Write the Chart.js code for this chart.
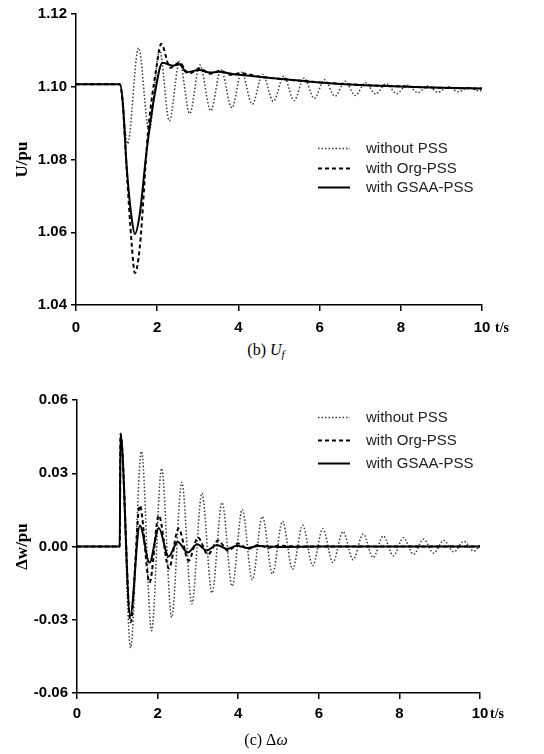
<!DOCTYPE html>
<html><head><meta charset="utf-8">
<script src="https://cdn.jsdelivr.net/npm/chart.js@4.4.1/dist/chart.umd.min.js"></script>
<style>
html,body{margin:0;padding:0;background:#fff;}
body{width:544px;height:754px;position:relative;overflow:hidden;}
canvas{position:absolute;left:0;}
.cap{position:absolute;left:0;width:532px;text-align:center;font-family:'Liberation Serif','Times New Roman',serif;font-size:16px;line-height:18px;color:#000;}
.cap sub{font-size:11px;vertical-align:-3px;line-height:0;}
.leg{position:absolute;left:318px;width:200px;font-family:'Liberation Sans',Arial,sans-serif;font-size:15px;color:#222;}
.row{position:absolute;left:0;white-space:nowrap;height:16px;width:200px;}
.row svg{position:absolute;left:0;top:7px;}
.row span{position:absolute;left:48px;top:-1px;line-height:18px;}
</style></head>
<body>
<canvas id="c1" width="544" height="340" style="top:0px"></canvas>
<canvas id="c2" width="544" height="374" style="top:380px"></canvas>
<div class="cap" style="top:341px">(b) <i>U</i><sub><i>f</i></sub></div>
<div class="cap" style="top:731px">(c) Δ<i>ω</i></div>
<div class="leg" id="leg1" style="top:140px"></div>
<div class="leg" id="leg2" style="top:409px"></div>
<script>
// ---- data ----
const seriesNames = ['without PSS', 'with Org-PSS', 'with GSAA-PSS'];
const xTicks = [0, 2, 4, 6, 8, 10];
const xTickLabels = ['0', '2', '4', '6', '8', '10'];
const ufTicks = [1.04, 1.06, 1.08, 1.10, 1.12];
const ufTickLabels = ['1.04', '1.06', '1.08', '1.10', '1.12'];
const dwTicks = [-0.06, -0.03, 0, 0.03, 0.06];
const dwTickLabels = ['-0.06', '-0.03', '0.00', '0.03', '0.06'];

// (b) Uf
const ufNoneT = [0, 1.08, 1.27, 1.54, 1.80, 2.06, 2.30, 2.55, 2.80, 3.05, 3.32, 3.57, 3.84, 4.08, 4.34, 4.60, 4.86, 5.12, 5.37, 5.62, 5.87, 6.12, 6.38, 6.63, 6.88, 7.13, 7.38, 7.64, 7.90, 8.15, 8.42, 8.66, 8.92, 9.17, 9.42, 9.68, 9.94, 10];
const ufNoneV = [1.1007, 1.1007, 1.0843, 1.1107, 1.0880, 1.1100, 1.0906, 1.1070, 1.0926, 1.1060, 1.0934, 1.1047, 1.0942, 1.1040, 1.0952, 1.1034, 1.0960, 1.1029, 1.0962, 1.1024, 1.0968, 1.1019, 1.0974, 1.1015, 1.0976, 1.1011, 1.0980, 1.1008, 1.0981, 1.1005, 1.0984, 1.1002, 1.0985, 1.1000, 1.0986, 1.0998, 1.0988, 1.0994];
const ufOrgT = [0, 1.08, 1.15, 1.25, 1.37, 1.45, 1.57, 1.77, 1.98, 2.10, 2.32, 2.55, 2.78, 3.05, 3.30, 3.55, 3.80, 4.05, 4.50, 5.00, 6.00, 7.00, 8.00, 9.00, 10];
const ufOrgV = [1.1007, 1.1007, 1.0955, 1.0770, 1.0570, 1.0488, 1.0557, 1.0870, 1.1052, 1.1118, 1.1052, 1.1066, 1.1036, 1.1050, 1.1036, 1.1044, 1.1033, 1.1037, 1.1028, 1.1022, 1.1012, 1.1005, 1.1001, 1.0997, 1.0995];
const ufGsaaT = [0, 1.08, 1.15, 1.25, 1.37, 1.45, 1.57, 1.74, 1.94, 2.13, 2.38, 2.55, 2.72, 3.04, 3.30, 3.53, 3.85, 4.46, 5.00, 5.50, 6.00, 7.00, 8.00, 9.00, 10];
const ufGsaaV = [1.1007, 1.1007, 1.0960, 1.0777, 1.0640, 1.0595, 1.0650, 1.0824, 1.0980, 1.1066, 1.1058, 1.1062, 1.1040, 1.1046, 1.1039, 1.1041, 1.1035, 1.1028, 1.1022, 1.1017, 1.1012, 1.1005, 1.1001, 1.0997, 1.0995];

// (c) Δω
const dwNoneT = [0, 1.06, 1.08, 1.33, 1.60, 1.85, 2.10, 2.35, 2.60, 2.85, 3.10, 3.35, 3.60, 3.85, 4.10, 4.35, 4.60, 4.85, 5.10, 5.35, 5.60, 5.85, 6.10, 6.35, 6.60, 6.85, 7.10, 7.35, 7.60, 7.85, 8.10, 8.35, 8.60, 8.85, 9.10, 9.35, 9.60, 9.85, 10];
const dwNoneV = [0, 0, 0.0460, -0.0415, 0.0390, -0.0345, 0.0320, -0.0290, 0.0263, -0.0235, 0.0218, -0.0190, 0.0180, -0.0162, 0.0152, -0.0136, 0.0123, -0.0112, 0.0103, -0.0093, 0.0087, -0.0078, 0.0073, -0.0065, 0.0061, -0.0054, 0.0051, -0.0045, 0.0043, -0.0038, 0.0036, -0.0032, 0.0030, -0.0027, 0.0025, -0.0022, 0.0021, -0.0019, 0.0005];
const dwOrgT = [0, 1.06, 1.08, 1.33, 1.56, 1.80, 2.03, 2.28, 2.52, 2.77, 3.00, 3.25, 3.50, 3.75, 4.00, 4.25, 4.50, 4.75, 5.00, 5.50, 10];
const dwOrgV = [0, 0, 0.0460, -0.0310, 0.0168, -0.0148, 0.0127, -0.0090, 0.0074, -0.0058, 0.0037, -0.0033, 0.0025, -0.0018, 0.0012, -0.0010, 0.0006, -0.0005, 0.0003, 0, 0];
const dwGsaaT = [0, 1.06, 1.08, 1.32, 1.56, 1.80, 2.03, 2.27, 2.50, 2.75, 2.98, 3.22, 3.47, 3.72, 3.97, 4.22, 4.50, 5.00, 6.00, 10];
const dwGsaaV = [0, 0, 0.0464, -0.0284, 0.0086, -0.0066, 0.0076, -0.0041, 0.0018, -0.0025, 0.0009, -0.0016, 0.0006, -0.0010, 0.0003, -0.0006, 0.0002, -0.0002, 0, 0];

// ---- styles ----
const styles = [
  {color: '#3a3a3a', width: 1.5, dash: [1.5, 2]},
  {color: '#000', width: 2, dash: [4, 3]},
  {color: '#000', width: 2, dash: []}
];

function pts(t, v) { return t.map((x, i) => ({x: x, y: v[i]})); }

const tsLabel = {
  id: 'tsLabel',
  afterDraw(chart, args, opts) {
    const xs = chart.scales.x, ctx = chart.ctx;
    ctx.save();
    ctx.font = 'bold 14px "Liberation Serif", "Times New Roman", serif';
    ctx.fillStyle = '#000';
    ctx.textBaseline = 'middle';
    ctx.textAlign = 'left';
    ctx.fillText('t/s', xs.getPixelForValue(10) + opts.dx, xs.top + opts.dy);
    ctx.restore();
  }
};

const tickFont = {family: '"Liberation Sans", Arial, sans-serif', weight: 'bold', size: 15};

function makeChart(id, c) {
  const series = [[c.nT, c.nV], [c.oT, c.oV], [c.gT, c.gV]];
  const datasets = [2, 1, 0].map(i => ({
    label: seriesNames[i],
    data: pts(series[i][0], series[i][1]),
    borderColor: styles[i].color,
    borderWidth: styles[i].width,
    borderDash: styles[i].dash,
    pointRadius: 0,
    fill: false,
    cubicInterpolationMode: 'monotone'
  }));
  return new Chart(document.getElementById(id), {
    type: 'line',
    data: {datasets: datasets},
    options: {
      responsive: false, animation: false, devicePixelRatio: 1,
      layout: {padding: c.pad},
      plugins: {legend: {display: false}, tooltip: {enabled: false}, tsLabel: {dx: c.tsDx, dy: c.tsDy}},
      scales: {
        x: {
          type: 'linear', min: 0, max: 10,
          afterBuildTicks: s => { s.ticks = xTicks.map(v => ({value: v})); },
          afterFit: s => { s.height = c.xH; s.paddingLeft = 0; s.paddingRight = 0; },
          ticks: {font: tickFont, color: '#000', padding: c.xPad, maxRotation: 0, autoSkip: false,
                  callback: (v, i) => xTickLabels[i]},
          grid: {drawOnChartArea: false, drawTicks: true, tickLength: 6, color: '#000', lineWidth: 1.5},
          border: {display: true, color: '#000', width: 1.5}
        },
        y: {
          type: 'linear', min: c.yMin, max: c.yMax,
          afterBuildTicks: s => { s.ticks = c.yTicks.map(v => ({value: v})); },
          afterFit: s => { s.width = c.yW; s.paddingTop = 0; s.paddingBottom = 0; },
          ticks: {font: tickFont, color: '#000', padding: 4, autoSkip: false,
                  callback: (v, i) => c.yLabels[i]},
          title: {display: true, text: c.yTitle, color: '#000', padding: {top: 12, bottom: 0},
                  font: {family: '"Liberation Serif", "Times New Roman", serif', weight: 'bold', size: 17}},
          grid: {drawOnChartArea: false, drawTicks: true, tickLength: 5, color: '#000', lineWidth: 1.5},
          border: {display: true, color: '#000', width: 1.5}
        }
      }
    },
    plugins: [tsLabel]
  });
}

makeChart('c1', {
  nT: ufNoneT, nV: ufNoneV, oT: ufOrgT, oV: ufOrgV, gT: ufGsaaT, gV: ufGsaaV,
  yMin: 1.04, yMax: 1.12, yTicks: ufTicks, yLabels: ufTickLabels, yTitle: 'U/pu',
  pad: {top: 14, right: 62, left: 0, bottom: 0}, xH: 35, yW: 76, xPad: 8, tsDx: 13, tsDy: 23
});
makeChart('c2', {
  nT: dwNoneT, nV: dwNoneV, oT: dwOrgT, oV: dwOrgV, gT: dwGsaaT, gV: dwGsaaV,
  yMin: -0.06, yMax: 0.06, yTicks: dwTicks, yLabels: dwTickLabels, yTitle: 'Δw/pu',
  pad: {top: 20, right: 64, left: 0, bottom: 0}, xH: 61, yW: 77, xPad: 6, tsDx: 10, tsDy: 21
});

// ---- HTML legends ----
function buildLegend(id, gap) {
  const el = document.getElementById(id);
  seriesNames.forEach((name, i) => {
    const st = styles[i];
    const row = document.createElement('div');
    row.className = 'row';
    row.style.top = (i * gap) + 'px';
    row.innerHTML = '<svg width="32" height="3"><line x1="0" y1="1.5" x2="32" y2="1.5" stroke="' + st.color +
      '" stroke-width="' + st.width + '" stroke-dasharray="' + (st.dash.length ? st.dash.join(' ') : 'none') +
      '"/></svg><span></span>';
    row.querySelector('span').textContent = name;
    el.appendChild(row);
  });
}
buildLegend('leg1', 19.5);
buildLegend('leg2', 23);
</script>
</body></html>
